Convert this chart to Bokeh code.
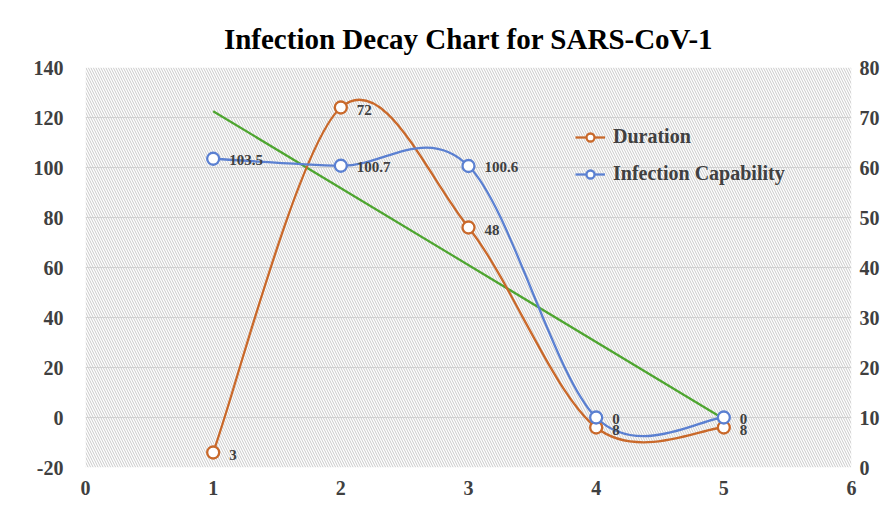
from bokeh.plotting import figure
from bokeh.models import Range1d, LinearAxis, BoxAnnotation, Legend, LegendItem, FixedTicker, ColumnDataSource
from bokeh.embed import file_html
from bokeh.resources import INLINE
import numpy as np

# ---- data ----
title_text = "Infection Decay Chart for SARS-CoV-1"
x_vals = [1, 2, 3, 4, 5]
duration = [3, 72, 48, 8, 8]                      # right axis
infection = [103.5, 100.7, 100.6, 0, 0]           # left axis
duration_labels = ["3", "72", "48", "8", "8"]
infection_labels = ["103.5", "100.7", "100.6", "0", "0"]
x_ticks = [0, 1, 2, 3, 4, 5, 6]
left_ticks = [-20, 0, 20, 40, 60, 80, 100, 120, 140]
left_tick_labels = ["-20", "0", "20", "40", "60", "80", "100", "120", "140"]
right_ticks = [0, 10, 20, 30, 40, 50, 60, 70, 80]

ORANGE = "#C9692B"
BLUE = "#5B80D1"
GREEN = "#4EA530"
TXT = "#404040"
FONT = "Liberation Serif"


def smooth_segments(xs, ys):
    """Catmull-Rom style bezier control points (like Excel smoothed lines)."""
    n = len(xs)
    d = dict(x0=[], y0=[], x1=[], y1=[], cx0=[], cy0=[], cx1=[], cy1=[])
    for i in range(n - 1):
        a = max(i - 1, 0)
        b = min(i + 2, n - 1)
        d["x0"].append(xs[i]); d["y0"].append(ys[i])
        d["x1"].append(xs[i + 1]); d["y1"].append(ys[i + 1])
        d["cx0"].append(xs[i] + (xs[i + 1] - xs[a]) / 6)
        d["cy0"].append(ys[i] + (ys[i + 1] - ys[a]) / 6)
        d["cx1"].append(xs[i + 1] - (xs[b] - xs[i]) / 6)
        d["cy1"].append(ys[i + 1] - (ys[b] - ys[i]) / 6)
    return ColumnDataSource(d)


p = figure(width=882, height=502, output_backend="svg", toolbar_location=None,
           x_range=Range1d(0, 6), y_range=Range1d(-20, 140),
           min_border_left=85, min_border_right=30, min_border_top=67, min_border_bottom=35)
p.extra_y_ranges = {"right": Range1d(0, 80)}
p.outline_line_color = None
p.background_fill_color = "white"

p.title.text = title_text
p.title.align = "center"
p.title.text_font = FONT
p.title.text_font_style = "bold"
p.title.text_font_size = "29px"
p.title.text_color = "black"
p.title.standoff = 25

# hatch background
p.add_layout(BoxAnnotation(fill_alpha=0, line_color=None, hatch_pattern="\\",
                           hatch_color="#c9c9c9", hatch_scale=5, hatch_weight=1,
                           level="underlay"))


def style_axis(ax):
    ax.axis_line_color = None
    ax.major_tick_line_color = None
    ax.minor_tick_line_color = None
    ax.major_tick_out = 0
    ax.major_tick_in = 0
    ax.minor_tick_out = 0
    ax.major_label_text_font = FONT
    ax.major_label_text_font_style = "bold"
    ax.major_label_text_font_size = "20px"
    ax.major_label_text_color = TXT


style_axis(p.xaxis[0])
style_axis(p.yaxis[0])
p.xaxis.ticker = FixedTicker(ticks=x_ticks)
p.yaxis.ticker = FixedTicker(ticks=left_ticks)
p.yaxis.major_label_overrides = {t: s for t, s in zip(left_ticks, left_tick_labels)}
p.xaxis.major_label_standoff = 13
p.yaxis.major_label_standoff = 22

rax = LinearAxis(y_range_name="right", ticker=FixedTicker(ticks=right_ticks))
style_axis(rax)
rax.major_label_standoff = 8
p.add_layout(rax, "right")

p.xgrid.visible = False
p.ygrid.ticker = FixedTicker(ticks=left_ticks)
p.ygrid.grid_line_color = "#d6d6d6"
p.ygrid.grid_line_width = 1

# trendline (linear fit of infection capability)
coef = np.polyfit(x_vals, infection, 1)
tx = [x_vals[0], x_vals[-1]]
ty = [coef[0] * v + coef[1] for v in tx]
p.line(tx, ty, line_color=GREEN, line_width=2.2)

# smoothed series
d_curve = p.bezier(x0="x0", y0="y0", x1="x1", y1="y1", cx0="cx0", cy0="cy0", cx1="cx1", cy1="cy1",
                   source=smooth_segments(x_vals, duration), line_color=ORANGE, line_width=2.3,
                   y_range_name="right")
i_curve = p.bezier(x0="x0", y0="y0", x1="x1", y1="y1", cx0="cx0", cy0="cy0", cx1="cx1", cy1="cy1",
                   source=smooth_segments(x_vals, infection), line_color=BLUE, line_width=2.3)

d_pts = p.scatter(x_vals, duration, marker="circle", size=12, fill_color="white",
                  line_color=ORANGE, line_width=2.3, y_range_name="right")
i_pts = p.scatter(x_vals, infection, marker="circle", size=12, fill_color="white",
                  line_color=BLUE, line_width=2.3)

# data labels
p.text(x_vals, duration, text=duration_labels, x_offset=16, y_offset=2,
       text_baseline="middle", text_font_size="15px", text_font_style="bold",
       text_color=TXT, y_range_name="right",
       text_font={"value": FONT})
p.text(x_vals, infection, text=infection_labels, x_offset=16, y_offset=1,
       text_baseline="middle", text_font_size="15px", text_font_style="bold",
       text_color=TXT, text_font={"value": FONT})

# legend
legend = Legend(items=[LegendItem(label="Duration", renderers=[d_curve, d_pts]),
                       LegendItem(label="Infection Capability", renderers=[i_curve, i_pts])],
                location=(490, 282), padding=0, margin=0, spacing=14,
                glyph_width=30, glyph_height=20, label_height=20, label_standoff=8,
                border_line_color=None, background_fill_alpha=0,
                label_text_font=FONT, label_text_font_style="bold",
                label_text_font_size="20px", label_text_color=TXT)
p.add_layout(legend)

open("out.html", "w").write(file_html(p, INLINE))
